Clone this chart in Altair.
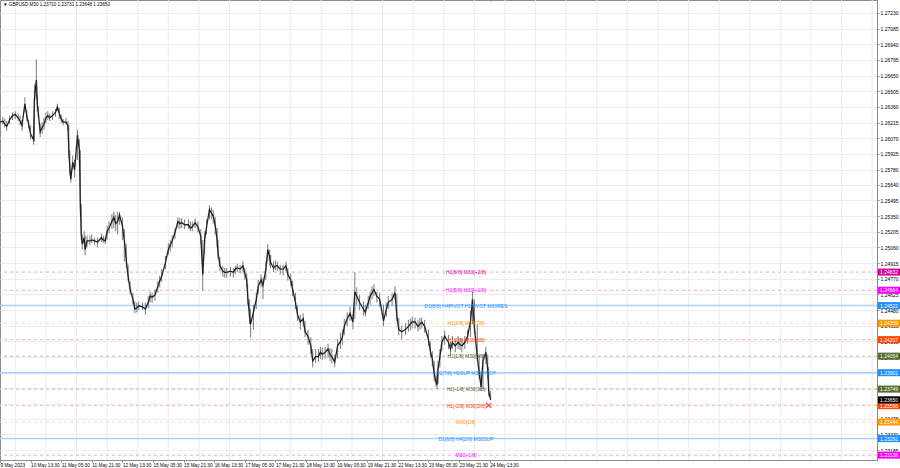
import altair as alt
import pandas as pd

# M30 bars counted from 9 May 2023 21:30 (bar 0)
bar = [0, 3, 5, 7, 10, 13, 16, 19, 21, 23, 26, 28, 30, 32, 35, 36, 38, 39, 40, 42,
       44, 46, 48, 50, 52, 55, 58, 60, 62, 64, 66, 69, 71, 72, 73, 74, 76, 78, 81, 83,
       84, 85, 86, 88, 89, 91, 94, 96, 99, 102, 106, 108, 110, 112, 114, 117, 119, 121, 123, 125,
       128, 130, 132, 134, 136, 139, 141, 143, 145, 149, 152, 155, 157, 159, 162, 165, 167, 169, 173, 176,
       178, 180, 183, 186, 188, 190, 193, 197, 199, 201, 204, 207, 210, 212, 214, 216, 219, 221, 223, 225,
       227, 228, 230, 233, 235, 237, 241, 244, 246, 248, 251, 254, 256, 258, 259, 261, 262, 265, 268, 270,
       273, 275, 278, 280, 282, 283, 286, 288, 290, 293, 296, 299, 301, 304, 306, 309, 311, 314, 317, 319,
       322, 325, 327, 330, 333, 335, 337, 340, 343, 345, 347, 350, 353, 356, 358, 360, 363, 366, 369, 371,
       373, 376, 380, 382, 385, 387, 389, 391, 394, 397, 401, 404, 406, 410, 413, 415, 417, 420, 424, 427,
       429, 431, 434, 437, 439, 441, 444, 448, 450, 452, 454, 456, 457, 458, 460, 462, 465, 469, 471, 473,
       476, 479, 481, 483, 486, 489, 492, 494, 496, 499, 501, 503, 505, 508, 510, 511, 513]

close = [1.2622, 1.2623, 1.2620, 1.2618, 1.2624, 1.2628, 1.2629, 1.2626, 1.2623, 1.2619, 1.2639, 1.2628, 1.2620, 1.2611, 1.2606, 1.2643, 1.2661, 1.2638, 1.2631, 1.2613,
         1.2617, 1.2620, 1.2626, 1.2628, 1.2626, 1.2628, 1.2631, 1.2636, 1.2630, 1.2625, 1.2622, 1.2622, 1.2619, 1.2595, 1.2580, 1.2569, 1.2585, 1.2578, 1.2610, 1.2596,
         1.2546, 1.2518, 1.2509, 1.2515, 1.2504, 1.2512, 1.2512, 1.2513, 1.2512, 1.2511, 1.2515, 1.2513, 1.2512, 1.2521, 1.2524, 1.2530, 1.2534, 1.2528, 1.2530, 1.2536,
         1.2526, 1.2513, 1.2495, 1.2479, 1.2467, 1.2458, 1.2449, 1.2450, 1.2452, 1.2451, 1.2449, 1.2455, 1.2461, 1.2460, 1.2462, 1.2470, 1.2475, 1.2479, 1.2492, 1.2504,
         1.2508, 1.2512, 1.2520, 1.2530, 1.2528, 1.2529, 1.2527, 1.2527, 1.2524, 1.2525, 1.2529, 1.2525, 1.2516, 1.2481, 1.2513, 1.2525, 1.2541, 1.2538, 1.2535, 1.2527,
         1.2513, 1.2501, 1.2489, 1.2484, 1.2483, 1.2483, 1.2484, 1.2483, 1.2486, 1.2487, 1.2486, 1.2489, 1.2482, 1.2476, 1.2461, 1.2441, 1.2435, 1.2446, 1.2458, 1.2470,
         1.2476, 1.2471, 1.2486, 1.2504, 1.2497, 1.2492, 1.2487, 1.2489, 1.2489, 1.2486, 1.2486, 1.2489, 1.2481, 1.2476, 1.2467, 1.2455, 1.2444, 1.2437, 1.2440, 1.2428,
         1.2424, 1.2415, 1.2401, 1.2405, 1.2405, 1.2409, 1.2407, 1.2409, 1.2412, 1.2407, 1.2405, 1.2400, 1.2415, 1.2419, 1.2423, 1.2433, 1.2440, 1.2445, 1.2437, 1.2465,
         1.2461, 1.2455, 1.2449, 1.2446, 1.2455, 1.2461, 1.2464, 1.2467, 1.2461, 1.2458, 1.2438, 1.2449, 1.2455, 1.2458, 1.2464, 1.2442, 1.2430, 1.2428, 1.2430, 1.2433,
         1.2435, 1.2437, 1.2437, 1.2433, 1.2435, 1.2437, 1.2433, 1.2421, 1.2410, 1.2403, 1.2389, 1.2381, 1.2379, 1.2393, 1.2405, 1.2418, 1.2424, 1.2418, 1.2412, 1.2418,
         1.2415, 1.2418, 1.2416, 1.2415, 1.2418, 1.2424, 1.2438, 1.2458, 1.2433, 1.2405, 1.2390, 1.2377, 1.2401, 1.2409, 1.2393, 1.2373, 1.23650]

high = [1.2626, 1.2627, 1.2625, 1.2623, 1.2628, 1.2631, 1.2632, 1.2630, 1.2628, 1.2624, 1.2645, 1.2633, 1.2624, 1.2619, 1.2613, 1.2657, 1.2680, 1.2647, 1.2637, 1.2620,
        1.2622, 1.2626, 1.2631, 1.2632, 1.2630, 1.2632, 1.2634, 1.2639, 1.2635, 1.2629, 1.2625, 1.2626, 1.2623, 1.2619, 1.2596, 1.2578, 1.2591, 1.2587, 1.2615, 1.2606,
        1.2596, 1.2546, 1.2518, 1.2521, 1.2517, 1.2517, 1.2517, 1.2518, 1.2515, 1.2515, 1.2519, 1.2517, 1.2516, 1.2526, 1.2530, 1.2537, 1.2539, 1.2536, 1.2539, 1.2539,
        1.2534, 1.2523, 1.2509, 1.2490, 1.2475, 1.2464, 1.2456, 1.2455, 1.2456, 1.2455, 1.2455, 1.2461, 1.2465, 1.2464, 1.2467, 1.2475, 1.2480, 1.2486, 1.2498, 1.2510,
        1.2513, 1.2517, 1.2524, 1.2534, 1.2533, 1.2533, 1.2532, 1.2532, 1.2530, 1.2530, 1.2533, 1.2530, 1.2523, 1.2513, 1.2521, 1.2532, 1.2545, 1.2543, 1.2541, 1.2534,
        1.2524, 1.2513, 1.2497, 1.2489, 1.2487, 1.2487, 1.2488, 1.2487, 1.2489, 1.2491, 1.2490, 1.2493, 1.2487, 1.2482, 1.2472, 1.2458, 1.2449, 1.2453, 1.2464, 1.2476,
        1.2481, 1.2478, 1.2493, 1.2509, 1.2504, 1.2499, 1.2493, 1.2494, 1.2493, 1.2490, 1.2490, 1.2493, 1.2487, 1.2482, 1.2475, 1.2464, 1.2452, 1.2444, 1.2445, 1.2438,
        1.2430, 1.2423, 1.2412, 1.2412, 1.2412, 1.2414, 1.2413, 1.2414, 1.2417, 1.2413, 1.2412, 1.2407, 1.2421, 1.2427, 1.2430, 1.2440, 1.2446, 1.2451, 1.2444, 1.2483,
        1.2469, 1.2462, 1.2456, 1.2453, 1.2461, 1.2465, 1.2470, 1.2472, 1.2465, 1.2464, 1.2453, 1.2455, 1.2461, 1.2464, 1.2470, 1.2463, 1.2441, 1.2434, 1.2436, 1.2439,
        1.2440, 1.2442, 1.2441, 1.2439, 1.2441, 1.2441, 1.2439, 1.2430, 1.2419, 1.2410, 1.2401, 1.2389, 1.2386, 1.2401, 1.2412, 1.2424, 1.2429, 1.2425, 1.2419, 1.2424,
        1.2421, 1.2424, 1.2422, 1.2421, 1.2424, 1.2430, 1.2447, 1.2465, 1.2458, 1.2435, 1.2407, 1.2391, 1.2407, 1.2414, 1.2407, 1.2395, 1.23731]

low = [1.2619, 1.2620, 1.2617, 1.2614, 1.2620, 1.2624, 1.2625, 1.2623, 1.2619, 1.2614, 1.2631, 1.2623, 1.2616, 1.2606, 1.2601, 1.2604, 1.2643, 1.2632, 1.2626, 1.2608,
       1.2611, 1.2615, 1.2621, 1.2624, 1.2623, 1.2624, 1.2627, 1.2632, 1.2625, 1.2621, 1.2619, 1.2620, 1.2614, 1.2589, 1.2573, 1.2566, 1.2578, 1.2571, 1.2587, 1.2583,
       1.2537, 1.2513, 1.2504, 1.2510, 1.2499, 1.2506, 1.2508, 1.2510, 1.2508, 1.2506, 1.2511, 1.2510, 1.2509, 1.2513, 1.2519, 1.2523, 1.2524, 1.2521, 1.2518, 1.2527,
       1.2513, 1.2493, 1.2487, 1.2475, 1.2463, 1.2453, 1.2445, 1.2446, 1.2448, 1.2448, 1.2444, 1.2450, 1.2455, 1.2455, 1.2457, 1.2464, 1.2469, 1.2474, 1.2486, 1.2499,
       1.2502, 1.2506, 1.2514, 1.2524, 1.2523, 1.2524, 1.2523, 1.2523, 1.2521, 1.2521, 1.2524, 1.2520, 1.2509, 1.2466, 1.2500, 1.2518, 1.2532, 1.2532, 1.2528, 1.2518,
       1.2506, 1.2495, 1.2484, 1.2479, 1.2478, 1.2478, 1.2479, 1.2478, 1.2481, 1.2483, 1.2482, 1.2482, 1.2476, 1.2469, 1.2453, 1.2435, 1.2423, 1.2430, 1.2449, 1.2463,
       1.2469, 1.2458, 1.2476, 1.2493, 1.2489, 1.2487, 1.2483, 1.2485, 1.2484, 1.2481, 1.2480, 1.2484, 1.2475, 1.2470, 1.2461, 1.2449, 1.2438, 1.2430, 1.2433, 1.2423,
       1.2416, 1.2407, 1.2395, 1.2399, 1.2400, 1.2403, 1.2402, 1.2403, 1.2404, 1.2401, 1.2399, 1.2395, 1.2403, 1.2412, 1.2416, 1.2425, 1.2433, 1.2438, 1.2430, 1.2440,
       1.2453, 1.2448, 1.2443, 1.2442, 1.2449, 1.2453, 1.2458, 1.2461, 1.2455, 1.2451, 1.2433, 1.2442, 1.2449, 1.2452, 1.2458, 1.2438, 1.2425, 1.2421, 1.2425, 1.2428,
       1.2429, 1.2431, 1.2431, 1.2428, 1.2430, 1.2431, 1.2427, 1.2415, 1.2404, 1.2396, 1.2382, 1.2377, 1.2375, 1.2380, 1.2395, 1.2410, 1.2416, 1.2412, 1.2406, 1.2412,
       1.2409, 1.2412, 1.2411, 1.2409, 1.2412, 1.2417, 1.2423, 1.2435, 1.2426, 1.2401, 1.2384, 1.2373, 1.2375, 1.2398, 1.2384, 1.2368, 1.23648]

# time axis
time_bars = [0, 32, 64, 96, 128, 160, 192, 224, 256, 288, 320, 352, 384, 416, 448, 480, 512]
time_labels = ["9 May 2023", "10 May 13:30", "11 May 05:30", "11 May 21:30", "12 May 13:30",
               "15 May 05:30", "15 May 21:30", "16 May 13:30", "17 May 05:30", "17 May 21:30",
               "18 May 13:30", "19 May 05:30", "19 May 21:30", "22 May 13:30", "23 May 05:30",
               "23 May 21:30", "24 May 13:30"]
grid_bars = [16, 48, 80, 112, 144, 176, 208, 240, 272, 304, 336, 368, 400, 432, 464, 496, 528,
             560, 592, 624, 656, 688, 720, 752, 784, 816, 848, 880, 912]

# price axis
price_ticks = [1.27230, 1.27085, 1.26940, 1.26795, 1.26650, 1.26505, 1.26360, 1.26215, 1.26070,
               1.25925, 1.25780, 1.25640, 1.25495, 1.25350, 1.25205, 1.25060, 1.24915, 1.24770,
               1.24625, 1.24480, 1.24335, 1.24190, 1.24045, 1.23900, 1.23755, 1.23610, 1.23475,
               1.23330, 1.23185]

# Murrey levels
level_price = [1.24832, 1.24664, 1.24522, 1.24359, 1.24207, 1.24054, 1.23901, 1.23749,
               1.23596, 1.23444, 1.23291, 1.23138]
level_text = ["H1[6/8] M30[+2/8]", "H1[5/8] M30[+1/8]", "D1[8/8] H4PIVOT H1PIVOT M30RES",
              "H1[3/8] M30[7/8]", "H1[2/8] M30[6/8]", "H1[1/8] M30[5/8]",
              "D1[7/8] H1SUP M30PIVOT", "H1[-1/8] M30[3/8]", "H1[-2/8] M30[2/8]",
              "M30[1/8]", "D1[6/8] H4[2/8] M30SUP", "M30[-1/8]"]
level_color = ["#d6009a", "#ff00ff", "#1e90ff", "#ff9900", "#ff4500", "#556b2f",
               "#1e90ff", "#556b2f", "#ff4500", "#ff9900", "#1e90ff", "#ff00ff"]
level_line = ["#f0a0e0", "#f4a0f4", "#a8d2ff", "#ffd9a8", "#ffb8a0", "#b8c0a8",
              "#a8d2ff", "#b8c0a8", "#ffb8a0", "#ffd9a8", "#a8d2ff", "#f4a0f4"]
level_solid = [False, False, True, False, False, False, True, False, False, False, True, False]

last_price = 1.23650
header = "\u25bc GBPUSD,M30  1.23710 1.23731 1.23648 1.23650"

FONT = "Liberation Sans"
FS = 5
W, H = 877, 460
X_MAX = 917

bars = pd.DataFrame({"bar": bar, "close": close, "high": high, "low": low})
levels = pd.DataFrame({"price": level_price, "text": level_text, "color": level_color,
                       "line": level_line, "solid": level_solid})
boxes = pd.concat([levels[["price", "color"]],
                   pd.DataFrame({"price": [last_price], "color": ["#000000"]})],
                  ignore_index=True)
grid = pd.DataFrame({"bar": grid_bars})

xscale = alt.Scale(domain=[0, X_MAX], nice=False, zero=False)
yscale = alt.Scale(domain=[1.23093, 1.27350], nice=False, zero=False)

label_expr = "[" + ",".join(f"'{t}'" for t in time_labels) + "][round(datum.value/32)]"

x_axis = alt.Axis(values=time_bars, labelExpr=label_expr, grid=False, tickSize=2,
                  labelAlign="left", labelBaseline="top", labelPadding=0, labelFontSize=4.7,
                  labelFont=FONT, labelColor="#000000", domainColor="#8c8c8c",
                  tickColor="#8c8c8c", labelFlush=False, labelOverlap=False, title=None)
y_axis = alt.Axis(values=price_ticks, format=".5f", orient="right", grid=True,
                  gridColor="#ececec", tickSize=2, labelPadding=1, labelFontSize=FS,
                  labelFont=FONT, labelColor="#000000", domainColor="#8c8c8c",
                  tickColor="#8c8c8c", labelOverlap=False, labelFlush=False, title=None)


def X(field):
    return alt.X(field, scale=xscale, axis=x_axis)


def Y(field):
    return alt.Y(field, scale=yscale, axis=y_axis)


# vertical grid lines between the time labels
vgrid = alt.Chart(grid).mark_rule(color="#ececec", strokeWidth=1).encode(
    x=X("bar:Q"),
)
solid_lines = alt.Chart(levels).transform_filter("datum.solid").mark_rule(strokeWidth=1.5).encode(
    y=Y("price:Q"),
    color=alt.Color("line:N", scale=None),
)
dashed_lines = alt.Chart(levels).transform_filter("!datum.solid").mark_rule(
    strokeWidth=1, strokeDash=[3, 3]
).encode(
    y=Y("price:Q"),
    color=alt.Color("line:N", scale=None),
)

# candles: high-low range plus close path
wicks = alt.Chart(bars).mark_rule(color="#7a7a7a", strokeWidth=1).encode(
    x=X("bar:Q"),
    y=Y("low:Q"),
    y2="high:Q",
)
closes = alt.Chart(bars).mark_line(color="#222222", strokeWidth=1.3).encode(
    x=X("bar:Q"),
    y=Y("close:Q"),
)

level_labels = alt.Chart(levels).mark_text(font=FONT, fontSize=FS, align="center",
                                           baseline="middle").encode(
    x=alt.value(466),
    y=Y("price:Q"),
    text="text:N",
    color=alt.Color("color:N", scale=None),
)

box_rects = alt.Chart(boxes).mark_rect(yOffset=-3.5, y2Offset=3.5).encode(
    x=alt.value(W + 1),
    x2=alt.value(W + 23),
    y=Y("price:Q"),
    y2="price:Q",
    color=alt.Color("color:N", scale=None),
)
box_text = alt.Chart(boxes).mark_text(font=FONT, fontSize=FS, align="left",
                                      baseline="middle", color="#ffffff").encode(
    x=alt.value(W + 3),
    y=Y("price:Q"),
    text=alt.Text("price:Q", format=".5f"),
)

marker = alt.Chart(pd.DataFrame({"bar": [511], "price": [1.23596], "t": ["\u2715"]})).mark_text(
    font="DejaVu Sans", fontSize=10, fontWeight="bold", color="#ff2a2a",
    align="center", baseline="middle"
).encode(
    x=X("bar:Q"),
    y=Y("price:Q"),
    text="t:N",
)

shift_mark = alt.Chart(pd.DataFrame({"bar": [513]})).mark_point(
    shape="triangle-down", size=12, filled=True, color="#9a9a9a"
).encode(
    x=X("bar:Q"),
    y=alt.value(1),
)

title_text = alt.Chart(pd.DataFrame({"t": [header]})).mark_text(
    font=FONT, fontSize=4.6, align="left", baseline="top", color="#000000"
).encode(
    x=alt.value(3),
    y=alt.value(2),
    text="t:N",
)

chart = alt.layer(
    vgrid, solid_lines, dashed_lines, wicks, closes, level_labels,
    box_rects, box_text, marker, shift_mark, title_text
).properties(
    width=W, height=H,
    autosize=alt.AutoSizeParams(type="none"),
    padding={"left": 0, "top": 0, "right": 23, "bottom": 8},
    background="#ffffff",
).configure_view(
    stroke="#8c8c8c", strokeWidth=1
)

chart.save("out.html", embed_options={"renderer": "svg", "actions": False})
